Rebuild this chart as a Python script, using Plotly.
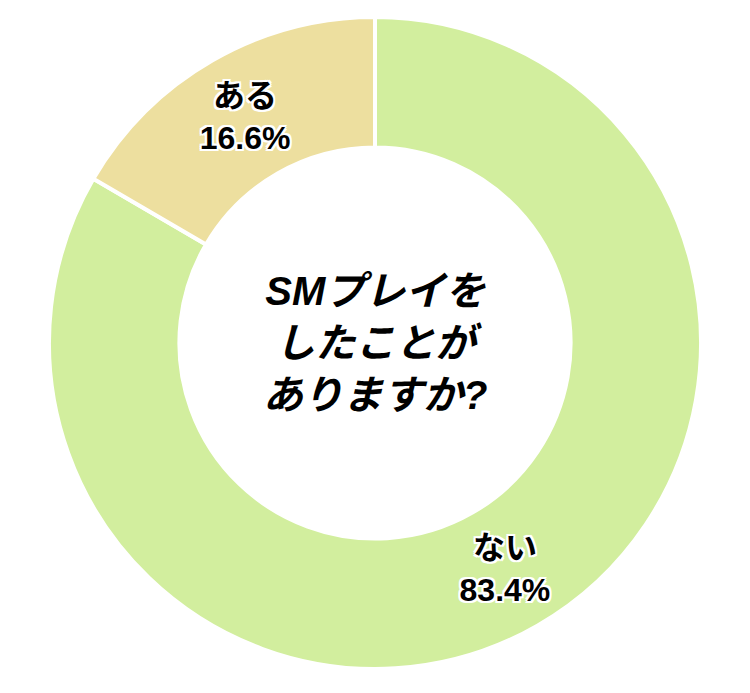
import plotly.graph_objects as go

# data
labels = ['ない', 'ある']
values = [83.4, 16.6]
colors = ['#d2ee9e', '#eddf9f']
question = 'SMプレイを<br>したことが<br>ありますか?'

font_family = 'Liberation Sans, Noto Sans CJK JP'
outline = ', '.join(f'{dx}px {dy}px 0 #fff' for dx in (-2, 0, 2) for dy in (-2, 0, 2) if dx or dy)

fig = go.Figure(go.Pie(
    labels=labels,
    values=values,
    hole=0.6,
    sort=False,
    direction='clockwise',
    rotation=0,
    marker=dict(colors=colors, line=dict(color='white', width=4)),
    texttemplate='%{label}<br>%{percent:.1%}',
    textposition='inside',
    insidetextorientation='horizontal',
    textfont=dict(family=font_family, size=32, color='black', weight='bold', shadow=outline),
    hoverinfo='label+percent',
    showlegend=False,
))

fig.add_annotation(
    text=question,
    x=0.5, y=0.5, xref='paper', yref='paper',
    showarrow=False,
    font=dict(family=font_family, size=40, color='black', weight='bold', style='italic'),
)

# page body adds an 8px margin, so the figure is kept 16px smaller
fig.update_layout(
    width=734, height=677,
    margin=dict(l=0, r=0, t=9, b=16),
    paper_bgcolor='white',
    plot_bgcolor='white',
)

fig.write_html('out.html')
